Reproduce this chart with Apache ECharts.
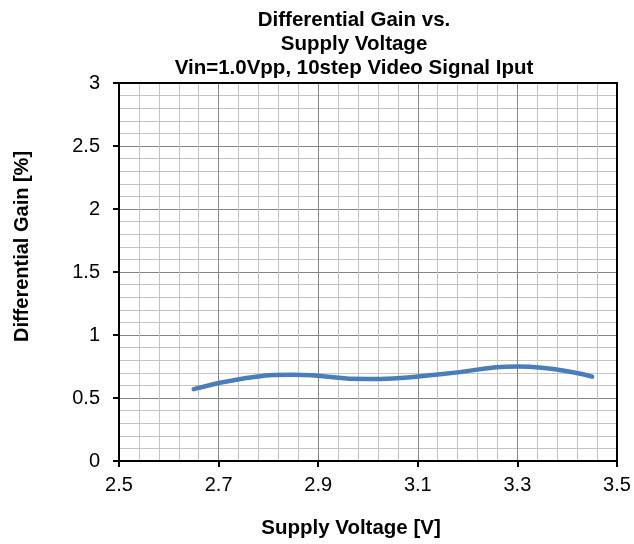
<!DOCTYPE html>
<html><head><meta charset="utf-8">
<script src="https://cdn.jsdelivr.net/npm/echarts@6/dist/echarts.min.js"></script>
<style>html,body{margin:0;padding:0;background:#fff}#c{width:634px;height:544px}</style>
</head><body><div id="c"></div>
<script>
const voltage = [2.65, 2.75, 2.85, 3.0, 3.15, 3.3, 3.45];
const dgain   = [0.57, 0.655, 0.685, 0.65, 0.69, 0.75, 0.67];
const xOrigin = 2.5;
const titleLines = ['Differential Gain vs.', 'Supply Voltage', 'Vin=1.0Vpp, 10step Video Signal Iput'];

const chart = echarts.init(document.getElementById('c'), null, {renderer: 'canvas'});
const font = 'Liberation Sans, Arial, sans-serif';
const seriesData = voltage.map((v, i) => [v - xOrigin, dgain[i]]);
chart.setOption({
  animation: false,
  backgroundColor: '#fff',
  title: {
    text: titleLines.join('\n'),
    left: 354, top: 8, textAlign: 'center', padding: 0,
    textStyle: {fontFamily: font, fontWeight: 'bold', fontSize: 20.5, lineHeight: 24, color: '#000'}
  },
  grid: {left: 119, top: 83, width: 498, height: 379},
  xAxis: [{
    type: 'value', min: 0, max: 1, interval: 0.2,
    name: 'Supply Voltage [V]', nameLocation: 'middle', nameGap: 57,
    nameTextStyle: {fontFamily: font, fontWeight: 'bold', fontSize: 20.5, color: '#000', padding: [0, 34, 0, 0]},
    axisLine: {show: true, onZero: false, lineStyle: {color: '#000', width: 2}},
    axisTick: {show: true, length: 6, lineStyle: {color: '#000', width: 2}},
    axisLabel: {fontFamily: font, fontSize: 20, color: '#000', margin: 14,
      formatter: v => (v + xOrigin).toFixed(1)},
    splitLine: {show: true, lineStyle: {color: '#858585', width: 1}},
    minorTick: {show: false, splitNumber: 5},
    minorSplitLine: {show: true, lineStyle: {color: '#c4c4c4', width: 1}}
  }, {
    type: 'value', position: 'top', min: 0, max: 1,
    axisLine: {show: true, onZero: false, lineStyle: {color: '#000', width: 2}},
    axisTick: {show: false}, axisLabel: {show: false}, splitLine: {show: false}
  }],
  yAxis: [{
    type: 'value', min: 0, max: 3, interval: 0.5,
    name: 'Differential Gain [%]', nameLocation: 'middle', nameGap: 87,
    nameTextStyle: {fontFamily: font, fontWeight: 'bold', fontSize: 20, color: '#000', padding: [0, 0, 0, 51]},
    axisLine: {show: true, onZero: false, lineStyle: {color: '#000', width: 2}},
    axisTick: {show: true, length: 6, lineStyle: {color: '#000', width: 2}},
    axisLabel: {fontFamily: font, fontSize: 20, color: '#000', margin: 19},
    splitLine: {show: true, lineStyle: {color: '#858585', width: 1}},
    minorTick: {show: false, splitNumber: 5},
    minorSplitLine: {show: true, lineStyle: {color: '#c4c4c4', width: 1}}
  }, {
    type: 'value', position: 'right', min: 0, max: 3,
    axisLine: {show: true, onZero: false, lineStyle: {color: '#000', width: 2}},
    axisTick: {show: false}, axisLabel: {show: false}, splitLine: {show: false}
  }],
  series: [{
    type: 'line', xAxisIndex: 0, yAxisIndex: 0,
    data: seriesData, smooth: 0.5, showSymbol: false,
    lineStyle: {color: '#4a7ebb', width: 4.5, cap: 'round'}
  }]
});
</script></body></html>
